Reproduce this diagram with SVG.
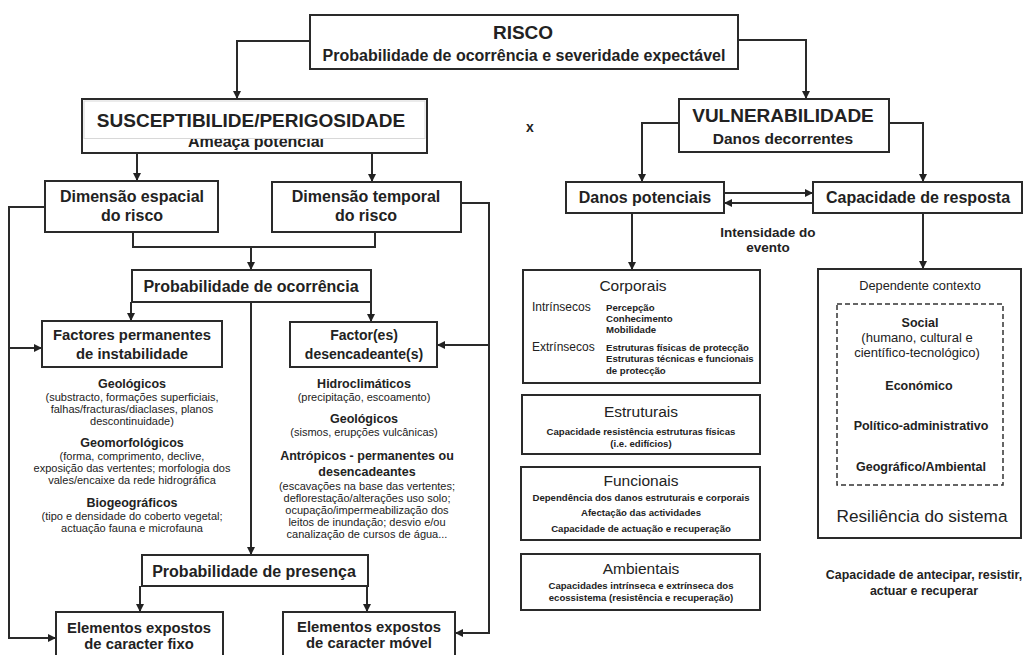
<svg xmlns="http://www.w3.org/2000/svg" width="1030" height="655" viewBox="0 0 1030 655">
<defs>
<marker id="ah" markerUnits="userSpaceOnUse" markerWidth="9" markerHeight="9" refX="8" refY="4" orient="auto">
<path d="M0,0 L8,4 L0,8 z" fill="#222"/>
</marker>
<style>
.box{fill:#fff;stroke:#2a2a2a;stroke-width:2}
.dash{fill:none;stroke:#333;stroke-width:1.5;stroke-dasharray:5,3}
.con path{fill:none;stroke:#2a2a2a;stroke-width:2}
.arr{marker-end:url(#ah)}
text{font-family:"Liberation Sans",Arial,sans-serif;fill:#222;text-anchor:middle}
.b{font-weight:bold}
.h19{font-size:19px;font-weight:bold}
.h16{font-size:16px;font-weight:bold}
.h15{font-size:14.8px;font-weight:bold}
.h14{font-size:14px;font-weight:bold}
.s12{font-size:12.5px;font-weight:bold}
.d11{font-size:11px}
.t9{font-size:9.6px;font-weight:bold}
.l{text-anchor:start}
</style>
</defs>

<g id="connectors" class="con">
<path class="arr" d="M310,41 H237 V99"/>
<path class="arr" d="M738,40 H806 V99"/>
<path class="arr" d="M137,153 V181"/>
<path class="arr" d="M372,153 V182"/>
<path d="M133,232 V247 H375 V232"/>
<path class="arr" d="M251,247 V270"/>
<path class="arr" d="M131,302 V321"/>
<path class="arr" d="M371,302 V322"/>
<path class="arr" d="M251,302 V555"/>
<path class="arr" d="M45,207 H9 V638 H56"/>
<path class="arr" d="M9,348 H42"/>
<path class="arr" d="M461,203 H489 V633 H455"/>
<path class="arr" d="M489,345 H437"/>
<path class="arr" d="M140,586 V612"/>
<path class="arr" d="M367,586 V612"/>
<path class="arr" d="M679,123 H642 V182"/>
<path class="arr" d="M889,123 H923 V182"/>
<path class="arr" d="M724,193 H813"/>
<path class="arr" d="M813,203 H724"/>
<path class="arr" d="M632,213 V270"/>
<path class="arr" d="M923,213 V269"/>
</g>

<g id="risco">
<rect class="box" x="310" y="15" width="428" height="54"/>
<text class="h19" x="523" y="39">RISCO</text>
<text class="h16" x="524" y="61">Probabilidade de ocorrência e severidade expectável</text>
</g>

<g id="susceptibilidade">
<rect class="box" x="82" y="99" width="345" height="54"/>
<text class="h16" x="256" y="147">Ameaça potencial</text>
<rect x="84" y="101" width="341" height="37.5" fill="#fff" stroke="#d8d8d8" stroke-width="1"/>
<text class="h19" x="251" y="127">SUSCEPTIBILIDE/PERIGOSIDADE</text>
</g>

<g id="vulnerabilidade">
<rect class="box" x="679" y="99" width="210" height="53"/>
<text class="h19" x="783" y="122">VULNERABILIDADE</text>
<text class="b" x="783" y="144" font-size="15.5">Danos decorrentes</text>
</g>

<text class="h14" x="530" y="132">x</text>

<g id="dim-espacial">
<rect class="box" x="45" y="181" width="173" height="51"/>
<text class="h16" x="132" y="202">Dimensão espacial</text>
<text class="h16" x="132" y="221">do risco</text>
</g>

<g id="dim-temporal">
<rect class="box" x="272" y="182" width="189" height="50"/>
<text class="h16" x="366" y="202">Dimensão temporal</text>
<text class="h16" x="366" y="221">do risco</text>
</g>

<g id="prob-ocorrencia">
<rect class="box" x="132" y="270" width="239" height="32"/>
<text class="h16" x="251" y="292">Probabilidade de ocorrência</text>
</g>

<g id="factores-permanentes">
<rect class="box" x="42" y="321" width="180" height="46"/>
<text class="h15" x="132" y="340">Factores permanentes</text>
<text class="h15" x="132" y="359">de instabilidade</text>
<text class="s12" x="132" y="388">Geológicos</text>
<text class="d11" x="132" y="401">(substracto, formações superficiais,</text>
<text class="d11" x="132" y="413">falhas/fracturas/diaclases, planos</text>
<text class="d11" x="132" y="425">descontinuidade)</text>
<text class="s12" x="132" y="447">Geomorfológicos</text>
<text class="d11" x="132" y="460">(forma, comprimento, declive,</text>
<text class="d11" x="132" y="472">exposição das vertentes; morfologia dos</text>
<text class="d11" x="132" y="484">vales/encaixe da rede hidrográfica</text>
<text class="s12" x="132" y="507">Biogeográficos</text>
<text class="d11" x="132" y="520">(tipo e densidade do coberto vegetal;</text>
<text class="d11" x="132" y="532">actuação fauna e microfauna</text>
</g>

<g id="factores-desencadeantes">
<rect class="box" x="290" y="322" width="147" height="45"/>
<text class="h14" x="364" y="340">Factor(es)</text>
<text class="h14" x="364" y="359">desencadeante(s)</text>
<text class="s12" x="364" y="388">Hidroclimáticos</text>
<text class="d11" x="364" y="401">(precipitação, escoamento)</text>
<text class="s12" x="364" y="423">Geológicos</text>
<text class="d11" x="364" y="436">(sismos, erupções vulcânicas)</text>
<text class="s12" x="367" y="460">Antrópicos - permanentes ou</text>
<text class="s12" x="367" y="476">desencadeantes</text>
<text class="d11" x="367" y="490">(escavações na base das vertentes;</text>
<text class="d11" x="367" y="502">deflorestação/alterações uso solo;</text>
<text class="d11" x="367" y="514">ocupação/impermeabilização dos</text>
<text class="d11" x="367" y="526">leitos de inundação; desvio e/ou</text>
<text class="d11" x="367" y="538">canalização de cursos de água...</text>
</g>

<g id="prob-presenca">
<rect class="box" x="142" y="555" width="226" height="31"/>
<text class="h16" x="254" y="577">Probabilidade de presença</text>
</g>

<g id="elementos-fixo">
<rect class="box" x="56" y="612" width="167" height="50"/>
<text class="h15" x="139" y="633">Elementos expostos</text>
<text class="h15" x="139" y="649">de caracter fixo</text>
</g>

<g id="elementos-movel">
<rect class="box" x="283" y="612" width="172" height="50"/>
<text class="h15" x="369" y="632">Elementos expostos</text>
<text class="h15" x="369" y="648">de caracter móvel</text>
</g>

<g id="danos-potenciais">
<rect class="box" x="566" y="182" width="158" height="31"/>
<text class="h16" x="645" y="203">Danos potenciais</text>
</g>

<g id="capacidade-resposta">
<rect class="box" x="813" y="182" width="209" height="31"/>
<text class="h16" x="918" y="203">Capacidade de resposta</text>
</g>

<text class="b" x="768" y="237" font-size="13.5">Intensidade do</text>
<text class="b" x="768" y="252" font-size="13.5">evento</text>

<g id="corporais">
<rect class="box" x="523" y="270" width="237" height="113"/>
<text x="633" y="291" font-size="15.5">Corporais</text>
<text class="l" x="532" y="311" font-size="12">Intrínsecos</text>
<text class="t9 l" x="606" y="311">Percepção</text>
<text class="t9 l" x="606" y="322">Conhecimento</text>
<text class="t9 l" x="606" y="333">Mobilidade</text>
<text class="l" x="532" y="351" font-size="12">Extrínsecos</text>
<text class="t9 l" x="606" y="351">Estruturas físicas de protecção</text>
<text class="t9 l" x="606" y="362">Estruturas técnicas e funcionais</text>
<text class="t9 l" x="606" y="374">de protecção</text>
</g>

<g id="estruturais">
<rect class="box" x="522" y="395" width="238" height="59"/>
<text x="641" y="417" font-size="15.5">Estruturais</text>
<text class="t9" x="641" y="435">Capacidade resistência estruturas físicas</text>
<text class="t9" x="641" y="447">(i.e. edifícios)</text>
</g>

<g id="funcionais">
<rect class="box" x="521" y="467" width="239" height="73"/>
<text x="641" y="486" font-size="15.5">Funcionais</text>
<text class="t9" x="641" y="501">Dependência dos danos estruturais e corporais</text>
<text class="t9" x="641" y="516">Afectação das actividades</text>
<text class="t9" x="641" y="532">Capacidade de actuação e recuperação</text>
</g>

<g id="ambientais">
<rect class="box" x="521" y="554" width="239" height="56"/>
<text x="641" y="574" font-size="15.5">Ambientais</text>
<text class="t9" x="641" y="589">Capacidades intrínseca e extrínseca dos</text>
<text class="t9" x="641" y="601">ecossistema (resistência e recuperação)</text>
</g>

<g id="resiliencia">
<rect class="box" x="818" y="269" width="203" height="269"/>
<text x="920" y="290" font-size="12.8">Dependente contexto</text>
<rect class="dash" x="837" y="304" width="166" height="181"/>
<text class="b" x="920" y="327" font-size="12.5">Social</text>
<text x="917" y="342" font-size="13">(humano, cultural e</text>
<text x="917" y="357" font-size="13">científico-tecnológico)</text>
<text class="b" x="919" y="390" font-size="12.5">Económico</text>
<text class="b" x="921" y="430" font-size="12.5">Político-administrativo</text>
<text class="b" x="921" y="471" font-size="12.5">Geográfico/Ambiental</text>
<text x="922" y="522" font-size="17.2">Resiliência do sistema</text>
</g>

<text class="b" x="924" y="579" font-size="12.4">Capacidade de antecipar, resistir,</text>
<text class="b" x="924" y="595" font-size="12.4">actuar e recuperar</text>
</svg>
